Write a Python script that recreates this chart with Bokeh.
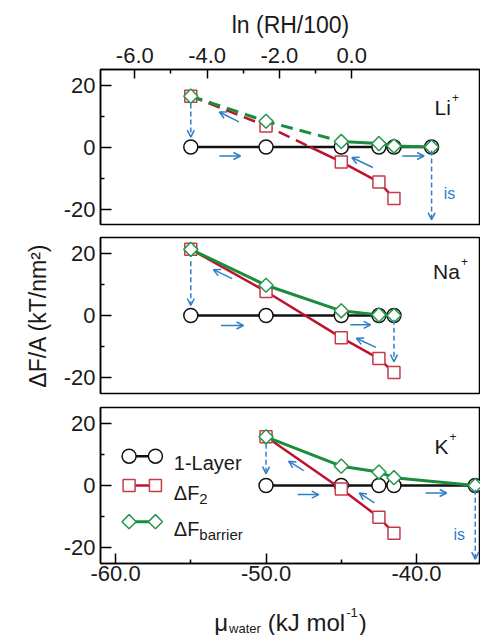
import math
from bokeh.plotting import figure
from bokeh.models import (Range1d, LinearAxis, FixedTicker, PrintfTickFormatter,
                          Label, Arrow, OpenHead, ColumnDataSource)
from bokeh.layouts import column
from bokeh.embed import file_html
from bokeh.resources import INLINE

FONT = "Liberation Sans"

# ---------------- data ----------------
panel_names = ["Li", "Na", "K"]

li_mu_layer = [-55.0, -50.0, -45.0, -42.5, -41.5, -39.0]
li_layer = [0.0, 0.0, 0.0, 0.0, 0.0, 0.0]
li_mu_f2 = [-55.0, -50.0, -45.0, -42.5, -41.5]
li_f2 = [16.4, 6.8, -4.8, -11.3, -16.6]
li_mu_bar = [-55.0, -50.0, -45.0, -42.5, -41.5, -39.0]
li_bar = [16.4, 8.3, 1.8, 1.1, 0.3, 0.0]

na_mu_layer = [-55.0, -50.0, -45.0, -42.5, -41.5]
na_layer = [0.0, 0.0, 0.0, 0.0, 0.0]
na_mu_f2 = [-55.0, -50.0, -45.0, -42.5, -41.5]
na_f2 = [21.2, 7.7, -7.1, -13.8, -18.3]
na_mu_bar = [-55.0, -50.0, -45.0, -42.5, -41.5]
na_bar = [21.2, 9.7, 1.5, 0.2, 0.0]

k_mu_layer = [-50.0, -45.0, -42.5, -41.5, -36.1]
k_layer = [0.0, 0.0, 0.0, 0.0, 0.0]
k_mu_f2 = [-50.0, -45.0, -42.5, -41.5]
k_f2 = [15.6, -1.1, -10.2, -15.3]
k_mu_bar = [-50.0, -45.0, -42.5, -41.5, -36.1]
k_bar = [15.6, 6.2, 4.3, 2.5, 0.0]

# blue guide arrows (start -> end), per panel
li_arrows = dict(x0=[-53.1, -51.8, -42.9, -40.95], y0=[-2.9, 8.1, -6.6, -2.9],
                 x1=[-51.7, -53.1, -44.3, -39.5], y1=[-2.9, 11.3, -3.4, -2.9])
li_drops = dict(x0=[-55.0, -39.0], y0=[14.0, -1.1], x1=[-55.0, -39.0], y1=[3.2, -23.4])
na_arrows = dict(x0=[-53.0, -52.25, -44.4, -42.7], y0=[-3.2, 11.8, -3.0, -10.2],
                 x1=[-51.5, -53.5, -43.05, -44.0], y1=[-3.2, 14.7, -3.0, -7.3])
na_drops = dict(x0=[-55.0, -41.5], y0=[17.4, -1.4], x1=[-55.0, -41.5], y1=[3.2, -14.8])
k_arrows = dict(x0=[-47.9, -47.5, -42.8, -39.4], y0=[-2.9, 4.8, -5.6, -2.4],
                x1=[-46.5, -48.5, -43.8, -38.0], y1=[-2.9, 7.8, -2.4, -2.4])
k_drops = dict(x0=[-50.0, -36.1], y0=[13.4, -1.4], x1=[-50.0, -36.1], y1=[3.8, -23.6])

legend_labels = ["1-Layer", "\u0394F", "\u0394F"]
legend_subs = ["", "2", "barrier"]

x_ticks = [-60, -50, -40]
x_minor = [-55, -45]
ln_ticks = [-6, -4, -2, 0]
ln_minor = [-5, -3, -1]
y_ticks = [-20, 0, 20]
y_minor = [-10, 10]

top_title = "ln (RH/100)"
y_title = "\u0394F/A (kT/nm\u00b2)"
x_title_parts = ["\u03bc", "water", "(kJ mol", "-1", ")"]

# mu = MU_AT_LN0 + KJ_PER_LN * ln(RH/100)  (top axis scale)
MU_AT_LN0 = -44.31
KJ_PER_LN = 2.402

# ---------------- styles ----------------
BLACK = "#111111"
RED_LINE = "#be1330"
RED_MK = "#c83a48"
GREEN_LINE = "#1b8b3c"
GREEN_MK = "#26974a"
BLUE = "#2f7fc6"
TXT = "#1a1a1a"

XMIN, XMAX = -61.0, -35.75
xr = Range1d(XMIN, XMAX)

CW = {'\u0394': 0.668, 'F': 0.611, 'L': 0.556, 'i': 0.222, 'N': 0.722, 'a': 0.556,
      'K': 0.667, '\u03bc': 0.576, '(': 0.333, ')': 0.333, 'k': 0.5, 'J': 0.5,
      ' ': 0.278, 'm': 0.833, 'o': 0.556, 'l': 0.222, 'w': 0.722, 't': 0.278,
      'e': 0.556, 'r': 0.333, '-': 0.333, '1': 0.556, '2': 0.556, 'b': 0.556,
      'y': 0.5, '+': 0.584}


def tw(s, size):
    return sum(CW.get(c, 0.556) for c in s) * size


def style_axis(ax, tick_in):
    ax.axis_line_color = "black"
    ax.axis_line_width = 1.5
    ax.major_tick_line_color = "black"
    ax.major_tick_line_width = 1.5
    ax.minor_tick_line_color = "black"
    ax.minor_tick_line_width = 1.5
    ax.major_tick_in = tick_in
    ax.major_tick_out = 0
    ax.minor_tick_in = 4
    ax.minor_tick_out = 0
    ax.major_label_text_font = FONT
    ax.major_label_text_font_size = "22px"
    ax.major_label_text_color = TXT
    ax.axis_label_text_font = FONT
    ax.axis_label_text_font_size = "23px"
    ax.axis_label_text_font_style = "normal"
    ax.axis_label_text_color = TXT


def make_fig(height, top, bottom):
    p = figure(width=480, height=height, x_range=xr, y_range=Range1d(-25, 25),
               output_backend="svg", toolbar_location=None,
               x_axis_location=None, y_axis_location=None,
               min_border_left=100, min_border_right=0,
               min_border_top=top, min_border_bottom=bottom)
    p.outline_line_color = "black"
    p.outline_line_width = 1.5
    p.xgrid.visible = False
    p.ygrid.visible = False
    p.background_fill_color = "white"
    p.border_fill_color = "white"
    yax = LinearAxis(ticker=FixedTicker(ticks=y_ticks, minor_ticks=y_minor),
                     formatter=PrintfTickFormatter(format="%d"))
    style_axis(yax, 11)
    yax.major_label_standoff = 5
    p.add_layout(yax, "left")
    return p, yax


def draw_panel(p, mu1, f1, mu2, f2, mub, fb, dashed, arrows, drops):
    p.line(mu1, f1, line_color=BLACK, line_width=2.5)
    p.scatter(mu1, f1, marker="circle", size=14, fill_color="white",
              line_color=BLACK, line_width=1.5)
    if dashed:
        k = next(i for i, v in enumerate(f2) if v < 0)
        t = f2[k - 1] / (f2[k - 1] - f2[k])
        xc = mu2[k - 1] + t * (mu2[k] - mu2[k - 1])
        p.line(mu2[:k] + [xc], f2[:k] + [0.0], line_color=RED_LINE, line_width=2.5,
               line_dash="12 7")
        p.line([xc] + mu2[k:], [0.0] + f2[k:], line_color=RED_LINE, line_width=2.5)
    else:
        p.line(mu2, f2, line_color=RED_LINE, line_width=2.5)
    p.scatter(mu2, f2, marker="square", size=12, fill_color="white",
              line_color=RED_MK, line_width=1.5)
    if dashed:
        p.line(mub[:k + 1], fb[:k + 1], line_color=GREEN_LINE, line_width=3,
               line_dash="12 7")
        p.line(mub[k:], fb[k:], line_color=GREEN_LINE, line_width=3)
    else:
        p.line(mub, fb, line_color=GREEN_LINE, line_width=3)
    p.scatter(mub, fb, marker="square", angle=math.pi / 4, size=10, fill_color="white",
              line_color=GREEN_MK, line_width=1.5)
    p.add_layout(Arrow(end=OpenHead(size=7, line_color=BLUE, line_width=1.5),
                       source=ColumnDataSource(arrows), x_start="x0", y_start="y0",
                       x_end="x1", y_end="y1", line_color=BLUE, line_width=1.5))
    p.add_layout(Arrow(end=OpenHead(size=7, line_color=BLUE, line_width=1.5),
                       source=ColumnDataSource(drops), x_start="x0", y_start="y0",
                       x_end="x1", y_end="y1", line_color=BLUE, line_width=1.5,
                       line_dash="5 3"))


def ion_label(p, name, x, y):
    p.add_layout(Label(x=x, y=y, text=name, text_font=FONT, text_font_size="21px",
                       text_color=TXT, text_baseline="alphabetic"))
    p.add_layout(Label(x=x, y=y, x_offset=tw(name, 21) + 1, y_offset=10, text="+",
                       text_font=FONT, text_font_size="12px", text_color=TXT,
                       text_baseline="alphabetic"))


def is_label(p, x, y):
    p.add_layout(Label(x=x, y=y, text="is", text_font=FONT, text_font_size="16px",
                       text_color=BLUE, text_baseline="alphabetic"))


# ---------------- top panel (Li+) ----------------
p1, _ = make_fig(230, 69, 6)
p1.extra_x_ranges = {"ln": Range1d((XMIN - MU_AT_LN0) / KJ_PER_LN,
                                   (XMAX - MU_AT_LN0) / KJ_PER_LN)}
top_ax = LinearAxis(x_range_name="ln",
                    ticker=FixedTicker(ticks=ln_ticks, minor_ticks=ln_minor),
                    formatter=PrintfTickFormatter(format="%.1f"),
                    axis_label=top_title)
style_axis(top_ax, 9)
top_ax.major_label_standoff = 7
top_ax.axis_label_standoff = 7
p1.add_layout(top_ax, "above")
draw_panel(p1, li_mu_layer, li_layer, li_mu_f2, li_f2, li_mu_bar, li_bar, True,
           li_arrows, li_drops)
ion_label(p1, panel_names[0], -38.8, 12.9)
is_label(p1, -38.2, -15.0)

# ---------------- middle panel (Na+) ----------------
p2, yax2 = make_fig(170, 7, 7)
yax2.axis_label = y_title
yax2.axis_label_standoff = 10
draw_panel(p2, na_mu_layer, na_layer, na_mu_f2, na_f2, na_mu_bar, na_bar, False,
           na_arrows, na_drops)
ion_label(p2, panel_names[1], -38.9, 14.2)

# ---------------- bottom panel (K+) ----------------
p3, _ = make_fig(193, 7, 30)
bot_ax = LinearAxis(ticker=FixedTicker(ticks=x_ticks, minor_ticks=x_minor),
                    formatter=PrintfTickFormatter(format="%.1f"))
style_axis(bot_ax, 10)
bot_ax.major_label_standoff = 2
p3.add_layout(bot_ax, "below")
draw_panel(p3, k_mu_layer, k_layer, k_mu_f2, k_f2, k_mu_bar, k_bar, False,
           k_arrows, k_drops)
ion_label(p3, panel_names[2], -38.8, 12.4)
is_label(p3, -37.55, -15.6)

# legend (drawn by hand: marker-line-marker)
leg_rows = [9.4, 0.0, -11.6]
leg_x = [-59.1, -57.35]
leg_text_x = -56.13
leg_specs = [(BLACK, BLACK, "circle", 14, 0.0, 2.5),
             (RED_LINE, RED_MK, "square", 12, 0.0, 2.5),
             (GREEN_LINE, GREEN_MK, "square", 10, math.pi / 4, 3)]
for row, (lc, mc, mk, sz, ang, lw), lab, sub in zip(leg_rows, leg_specs,
                                                     legend_labels, legend_subs):
    p3.line(leg_x, [row, row], line_color=lc, line_width=lw)
    p3.scatter(leg_x, [row, row], marker=mk, size=sz, angle=ang, fill_color="white",
               line_color=mc, line_width=1.5)
    p3.add_layout(Label(x=leg_text_x, y=row, y_offset=-7, text=lab, text_font=FONT,
                        text_font_size="20px", text_color=TXT,
                        text_baseline="alphabetic"))
    if sub:
        p3.add_layout(Label(x=leg_text_x, y=row, x_offset=tw(lab, 20), y_offset=-13,
                            text=sub, text_font=FONT, text_font_size="15px",
                            text_color=TXT, text_baseline="alphabetic"))

# ---------------- x-axis title strip: mu_water (kJ mol^-1) ----------------
# strip uses the same left border as the panels; its data units are page pixels
H4 = 42
p4 = figure(width=480, height=H4, x_range=Range1d(100, 480), y_range=Range1d(0, H4),
            output_backend="svg", toolbar_location=None,
            x_axis_location=None, y_axis_location=None,
            min_border_left=100, min_border_right=0, min_border_top=0,
            min_border_bottom=0)
p4.outline_line_color = None
p4.xgrid.visible = False
p4.ygrid.visible = False
sizes = [24, 13, 24, 13, 24]
shifts = [0, -6, 0, 10, 0]
gaps = [0, 1, 7, 1, 1]  # horizontal gap (px) before each part
total = sum(tw(s, f) for s, f in zip(x_title_parts, sizes)) + sum(gaps)
sx = 290 - total / 2.0
base = 13
for s, f, dy, g in zip(x_title_parts, sizes, shifts, gaps):
    sx += g
    p4.add_layout(Label(x=sx, y=base + dy, text=s, text_font=FONT,
                        text_font_size=f"{f}px", text_color=TXT,
                        text_baseline="alphabetic"))
    sx += tw(s, f)

layout = column(p1, p2, p3, p4, spacing=0)
open("out.html", "w").write(file_html(layout, INLINE))
